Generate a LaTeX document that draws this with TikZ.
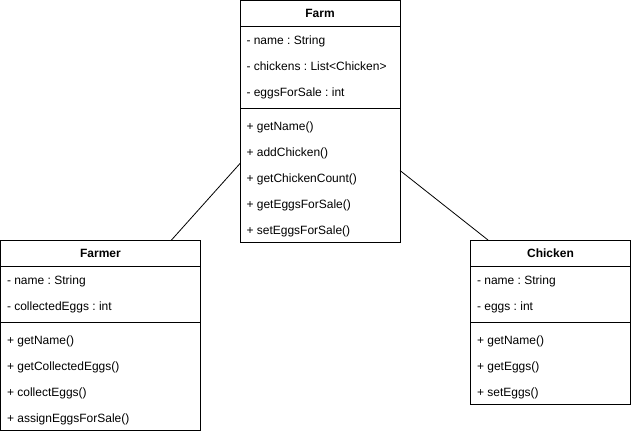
\documentclass[tikz,border=0pt]{standalone}
\usepackage{fontspec}
\setmainfont{Liberation Sans}
\frenchspacing
\usetikzlibrary{positioning}

\begin{document}
\begin{tikzpicture}[x=1pt,y=-1pt,line width=1pt,
                    font=\fontsize{12}{14}\selectfont,
                    cls/.style={draw,inner sep=0pt,outer sep=0pt,minimum width=160pt},
                    head/.style={cls,minimum height=26pt,font=\fontsize{12}{14}\selectfont\bfseries},
                    part/.style={cls},
                    row/.style={anchor=base west,inner sep=0pt}]
  \useasboundingbox (0,0) rectangle (631,434);

  % Farm
  \node[head]                                (farm-head)  at (320,13.5) {Farm};
  \node[part,minimum height=82pt]            (farm-attrs) [below=0pt of farm-head]  {};
  \node[part,minimum height=134pt]           (farm-meths) [below=0pt of farm-attrs] {};
  \foreach \t [count=\i] in {- name : String, - chickens : List<Chicken>, - eggsForSale : int}
    \node[row] (farm-a\i) at ([xshift=6pt,yshift={-18pt-26pt*(\i-1)}]farm-attrs.north west) {\t};
  \foreach \t [count=\i] in {+ getName(), + addChicken(), + getChickenCount(), + getEggsForSale(), + setEggsForSale()}
    \node[row] (farm-m\i) at ([xshift=6pt,yshift={-22pt-26pt*(\i-1)}]farm-meths.north west) {\t};

  % Farmer
  \node[head,minimum width=200pt]                      (farmer-head)  at (100.5,253) {Farmer};
  \node[part,minimum width=200pt,minimum height=56pt]  (farmer-attrs) [below=0pt of farmer-head]  {};
  \node[part,minimum width=200pt,minimum height=108pt] (farmer-meths) [below=0pt of farmer-attrs] {};
  \foreach \t [count=\i] in {- name : String, - collectedEggs : int}
    \node[row] (farmer-a\i) at ([xshift=6pt,yshift={-18pt-26pt*(\i-1)}]farmer-attrs.north west) {\t};
  \foreach \t [count=\i] in {+ getName(), + getCollectedEggs(), + collectEggs(), + assignEggsForSale()}
    \node[row] (farmer-m\i) at ([xshift=6pt,yshift={-22pt-26pt*(\i-1)}]farmer-meths.north west) {\t};

  % Chicken
  \node[head]                                (chicken-head)  at (550.5,253) {Chicken};
  \node[part,minimum height=56pt]            (chicken-attrs) [below=0pt of chicken-head]  {};
  \node[part,minimum height=82pt]            (chicken-meths) [below=0pt of chicken-attrs] {};
  \foreach \t [count=\i] in {- name : String, - eggs : int}
    \node[row] (chicken-a\i) at ([xshift=6pt,yshift={-18pt-26pt*(\i-1)}]chicken-attrs.north west) {\t};
  \foreach \t [count=\i] in {+ getName(), + getEggs(), + setEggs()}
    \node[row] (chicken-m\i) at ([xshift=6pt,yshift={-22pt-26pt*(\i-1)}]chicken-meths.north west) {\t};

  \path[draw,line width=0.8pt]
        ([yshift=-55pt]farm-meths.north west) edge ([xshift=-29pt]farmer-head.north east)
        ([yshift=-62pt]farm-meths.north east) edge ([xshift=17.5pt]chicken-head.north west);
\end{tikzpicture}
\end{document}
